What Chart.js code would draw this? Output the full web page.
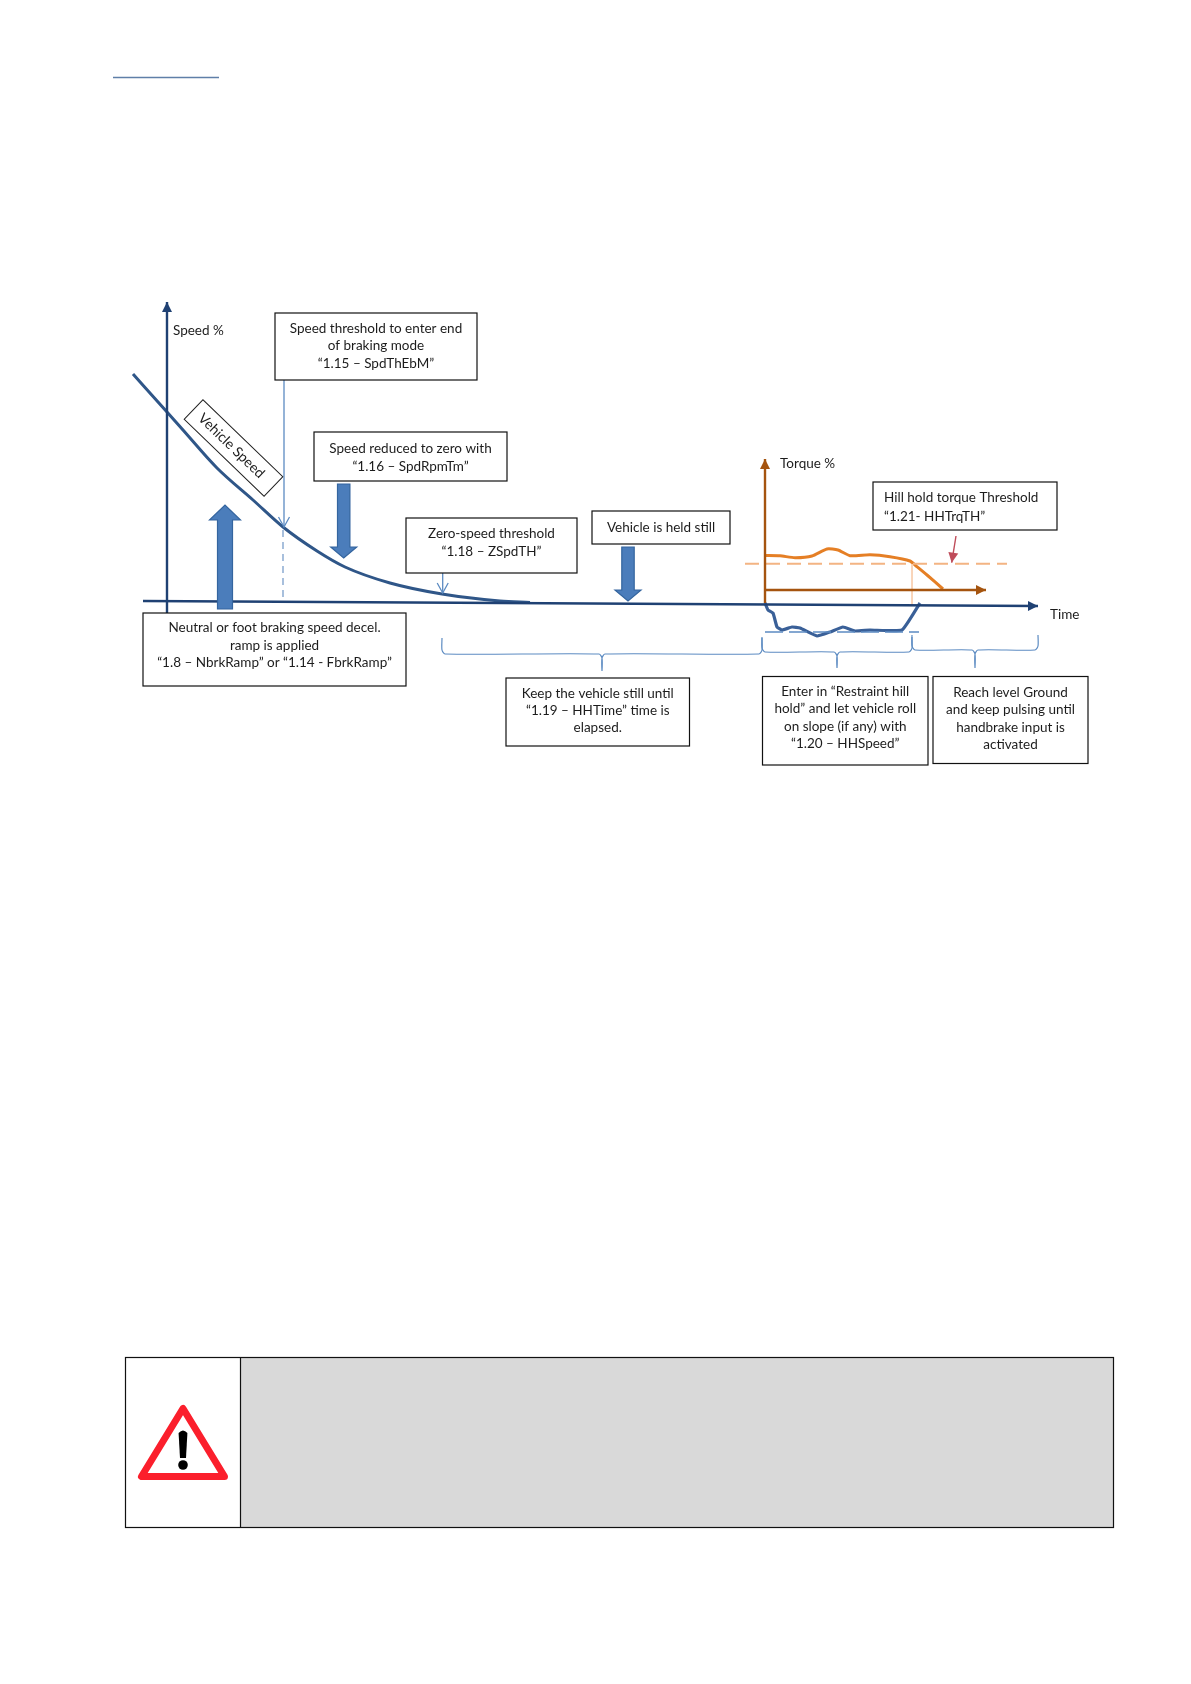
<!DOCTYPE html>
<html>
<head>
    <meta charset="UTF-8">
    <script src="https://cdn.jsdelivr.net/npm/chart.js@4/dist/chart.umd.min.js"></script>
    <style>
        html, body { margin: 0; padding: 0; background: #fff; }
        #wrap { width: 1191px; height: 1684px; position: relative; }
    </style>
</head>
<body>
<div id="wrap"><canvas id="diagram" width="1191" height="1684"></canvas></div>

<script>
    // time axis starts at the speed axis, speed is measured above the time axis
    const speedTime = [-34, 0, 16, 50, 86, 116, 150, 178, 223, 275, 333, 363];
    const speedValues = [227, 189, 171, 133, 101, 74, 50, 34, 18, 7, 0, -1.5];

    const rollTime = [598, 601, 606, 610, 615, 625, 633, 650, 663, 676, 688, 703, 735, 753];
    const rollValues = [-2, -9, -12, -26, -29, -26, -27, -35, -31, -26, -30, -29, -29, -2];
    const rollThresholdTime = [598, 752];
    const rollThresholdValues = [-31, -31];

    // torque has its own small plot, origin sits on the second vertical axis
    const torqueTime = [0, 15, 30, 47, 62, 73, 85, 105, 125, 145, 152, 162, 178];
    const torqueValues = [34.5, 34.2, 32.3, 34, 41, 40, 34.3, 35.3, 33.3, 29, 23.3, 15, 1];
    const torqueThresholdTime = [-20, 242];
    const torqueThresholdValues = [26.3, 26.3];

    const braceStarts = [275, 595, 745];
    const braceEnds = [595, 745, 871];
    const braceTips = [435, 670, 808];
    const braceTops = [-37, -36, -34];
    const braceLines = [-53, -51, -49];
    const braceBottoms = [-70, -67, -67];

    const axisLabels = ["Speed %", "Torque %", "Time"];
    const vehicleLabel = "Vehicle Speed";
    const boxTexts = [
        ["Speed threshold to enter end", "of braking mode", "“1.15 – SpdThEbM”"],
        ["Speed reduced to zero with", "“1.16 – SpdRpmTm”"],
        ["Zero-speed threshold", "“1.18 – ZSpdTH”"],
        ["Neutral or foot braking speed decel.", "ramp is applied", "“1.8 – NbrkRamp” or “1.14 - FbrkRamp”"],
        ["Vehicle is held still"],
        ["Hill hold torque Threshold", "“1.21- HHTrqTH”"],
        ["Keep the vehicle still until", "“1.19 – HHTime” time is", "elapsed."],
        ["Enter in “Restraint hill", "hold” and let vehicle roll", "on slope (if any) with", "“1.20 – HHSpeed”"],
        ["Reach level Ground", "and keep pulsing until", "handbrake input is", "activated"]
    ];

    // page layout of the boxes, in canvas pixels: x0, y0, x1, y1, y of the first line, line step
    const boxLayout = [
        [275, 313, 477, 380, 328.5, 17.5],
        [314, 432, 507, 481, 448.5, 18],
        [406, 518, 577, 573, 533.5, 18],
        [143, 613, 406, 686, 628, 17.5],
        [592, 511, 730, 544, 527.5, 0],
        [873, 482, 1057, 530, 497.5, 19],
        [506, 678, 689.5, 746, 694, 17],
        [762.5, 676.5, 928, 765, 691.5, 17.4],
        [933, 676.5, 1088, 763.5, 692.5, 17.5]
    ];
    const labelLayout = [[173, 331], [780, 463.5], [1050, 614.5]];

    const font = '13.5px Lato';
    const navy = '#1f4173';
    const curveBlue = '#2f5688';
    const thinBlue = '#5c8bc2';
    const brown = '#a5540f';
    const orange = '#e57f25';
    const paleOrange = '#f3b483';

    function xy(xs, ys) {
        return xs.map(function(x, i) { return {x: x, y: ys[i]}; });
    }

    function line(xs, ys, color, width, extra) {
        return Object.assign({
            type: 'scatter', data: xy(xs, ys), showLine: true, borderColor: color,
            borderWidth: width, pointRadius: 0, fill: false
        }, extra || {});
    }

    function brace(i) {
        const a = braceStarts[i], b = braceEnds[i], t = braceTips[i];
        const top = braceTops[i], mid = braceLines[i], low = braceBottoms[i];
        return line(
            [a, a, a + 3, t - 3, t, t, t, t + 3, b - 3, b, b],
            [top, mid + 4, mid, mid, mid - 4, low, mid - 4, mid, mid, mid + 4, top],
            thinBlue, 1.2, {tension: 0.25}
        );
    }

    const datasets = [
        // speed plot
        line([0, 0], [-12, 299], navy, 2.4, {tip: 'solid'}),
        line([-24, 871], [0, -5], navy, 2.4, {tip: 'solid'}),
        line(speedTime, speedValues, curveBlue, 3, {cubicInterpolationMode: 'monotone'}),
        // threshold arrows
        line([117, 117], [221, 74], thinBlue, 1.3, {tip: 'open'}),
        line([116, 116], [71, 1], '#6f96c6', 1.2, {borderDash: [7, 5]}),
        line([275.7, 275.7], [28, 8], thinBlue, 1.3, {tip: 'open'}),
        // block arrows
        line([58, 58], [-8, 96], curveBlue, 0, {block: true}),
        line([176.7, 176.7], [117, 43], curveBlue, 0, {block: true}),
        line([461, 461], [54, 0], curveBlue, 0, {block: true}),
        // torque plot
        line([0, 0], [-13, 131], brown, 2.4, {tip: 'solid', xAxisID: 'xTorque', yAxisID: 'yTorque'}),
        line([0, 221], [0, 0], brown, 2.4, {tip: 'solid', xAxisID: 'xTorque', yAxisID: 'yTorque'}),
        line(torqueThresholdTime, torqueThresholdValues, paleOrange, 2, {borderDash: [14, 7], xAxisID: 'xTorque', yAxisID: 'yTorque'}),
        line([147, 147], [26, -16], '#f8cfb0', 1, {xAxisID: 'xTorque', yAxisID: 'yTorque'}),
        line(torqueTime, torqueValues, orange, 3, {tension: 0.2, xAxisID: 'xTorque', yAxisID: 'yTorque'}),
        line([191, 186.7], [54, 27.3], '#bf4c5a', 1.4, {tip: 'solid', xAxisID: 'xTorque', yAxisID: 'yTorque'}),
        // rolling back on the slope
        line(rollThresholdTime, rollThresholdValues, thinBlue, 1.6, {borderDash: [18, 6]}),
        line(rollTime, rollValues, '#3a6098', 3.2, {tension: 0.12}),
        brace(0), brace(1), brace(2)
    ];

    function drawHead(ctx, a, b, kind, color) {
        const ang = Math.atan2(b.y - a.y, b.x - a.x);
        const len = 10;
        const half = kind === 'open' ? 5.5 : 5;
        ctx.save();
        ctx.translate(b.x, b.y);
        ctx.rotate(ang);
        ctx.beginPath();
        ctx.moveTo(-len, -half);
        ctx.lineTo(0, 0);
        ctx.lineTo(-len, half);
        if (kind === 'open') {
            ctx.strokeStyle = color;
            ctx.lineWidth = 1.3;
            ctx.stroke();
        } else {
            ctx.closePath();
            ctx.fillStyle = color;
            ctx.fill();
        }
        ctx.restore();
    }

    function drawBlock(ctx, a, b) {
        const dir = b.y > a.y ? 1 : -1;
        const headLen = dir < 0 ? 15 : 11;
        const shaft = dir < 0 ? 7.5 : 6.2;
        const head = dir < 0 ? 15.5 : 13;
        ctx.beginPath();
        ctx.moveTo(a.x - shaft, a.y);
        ctx.lineTo(a.x - shaft, b.y - dir * headLen);
        ctx.lineTo(a.x - head, b.y - dir * headLen);
        ctx.lineTo(b.x, b.y);
        ctx.lineTo(a.x + head, b.y - dir * headLen);
        ctx.lineTo(a.x + shaft, b.y - dir * headLen);
        ctx.lineTo(a.x + shaft, a.y);
        ctx.closePath();
        ctx.fillStyle = '#4b7dbb';
        ctx.strokeStyle = '#34659f';
        ctx.lineWidth = 1.2;
        ctx.fill();
        ctx.stroke();
    }

    function drawBoxes(ctx) {
        ctx.font = font;
        ctx.textBaseline = 'middle';
        boxTexts.forEach(function(lines, i) {
            const b = boxLayout[i];
            ctx.fillStyle = '#fff';
            ctx.fillRect(b[0], b[1], b[2] - b[0], b[3] - b[1]);
            ctx.strokeStyle = '#111';
            ctx.lineWidth = 1.2;
            ctx.strokeRect(b[0], b[1], b[2] - b[0], b[3] - b[1]);
            ctx.fillStyle = '#1c1c1c';
            const left = i === 5;
            ctx.textAlign = left ? 'left' : 'center';
            lines.forEach(function(s, j) {
                ctx.fillText(s, left ? b[0] + 11 : (b[0] + b[2]) / 2, b[4] + j * b[5]);
            });
        });
        ctx.textAlign = 'left';
        axisLabels.forEach(function(s, i) {
            ctx.fillText(s, labelLayout[i][0], labelLayout[i][1]);
        });
    }

    function drawVehicleTag(ctx) {
        ctx.save();
        ctx.translate(233.5, 448);
        ctx.rotate(44 * Math.PI / 180);
        ctx.fillStyle = '#fff';
        ctx.fillRect(-55.5, -13.5, 111, 27);
        ctx.strokeStyle = '#222';
        ctx.lineWidth = 1;
        ctx.strokeRect(-55.5, -13.5, 111, 27);
        ctx.fillStyle = '#1c1c1c';
        ctx.font = '14px Lato';
        ctx.textAlign = 'center';
        ctx.textBaseline = 'middle';
        ctx.fillText(vehicleLabel, -3, 0);
        ctx.restore();
    }

    function drawPageParts(ctx) {
        // short rule at the top of the page
        ctx.strokeStyle = '#5f7fa8';
        ctx.lineWidth = 1.5;
        ctx.beginPath();
        ctx.moveTo(113, 77.5);
        ctx.lineTo(219, 77.5);
        ctx.stroke();

        // warning table
        ctx.fillStyle = '#d9d9d9';
        ctx.fillRect(240, 1357, 873.5, 170);
        ctx.strokeStyle = '#111';
        ctx.lineWidth = 1.2;
        ctx.strokeRect(125.5, 1357.5, 988, 170);
        ctx.beginPath();
        ctx.moveTo(240.5, 1357);
        ctx.lineTo(240.5, 1527);
        ctx.stroke();

        ctx.lineJoin = 'round';
        ctx.beginPath();
        ctx.moveTo(183, 1408.5);
        ctx.lineTo(141.5, 1476.5);
        ctx.lineTo(224.5, 1476.5);
        ctx.closePath();
        ctx.fillStyle = '#fff';
        ctx.fill();
        ctx.strokeStyle = '#fb1f2c';
        ctx.lineWidth = 7;
        ctx.stroke();
        ctx.lineJoin = 'miter';

        ctx.fillStyle = '#000';
        ctx.beginPath();
        ctx.moveTo(178.6, 1433);
        ctx.quadraticCurveTo(183, 1428, 187.4, 1433);
        ctx.lineTo(186, 1458);
        ctx.lineTo(180, 1458);
        ctx.closePath();
        ctx.fill();
        ctx.beginPath();
        ctx.arc(183, 1465, 4.8, 0, Math.PI * 2);
        ctx.fill();
    }

    const diagramPlugin = {
        id: 'diagramPlugin',
        afterDatasetsDraw: function(chart) {
            const ctx = chart.ctx;
            chart.data.datasets.forEach(function(ds, i) {
                const pts = chart.getDatasetMeta(i).data;
                const a = pts[pts.length - 2], b = pts[pts.length - 1];
                if (ds.tip) drawHead(ctx, a, b, ds.tip, ds.borderColor);
                if (ds.block) drawBlock(ctx, pts[0], pts[1]);
            });
            drawBoxes(ctx);
            drawVehicleTag(ctx);
            drawPageParts(ctx);
        }
    };

    new Chart(document.getElementById('diagram'), {
        type: 'scatter',
        data: {datasets: datasets},
        plugins: [diagramPlugin],
        options: {
            responsive: false,
            animation: false,
            layout: {padding: 0},
            plugins: {legend: {display: false}, tooltip: {enabled: false}},
            scales: {
                x: {type: 'linear', display: false, min: -167, max: 1024},
                y: {type: 'linear', display: false, min: -1083, max: 601},
                xTorque: {type: 'linear', display: false, axis: 'x', min: -765, max: 426},
                yTorque: {type: 'linear', display: false, axis: 'y', min: -1094, max: 590}
            }
        }
    });
</script>
</body>
</html>
